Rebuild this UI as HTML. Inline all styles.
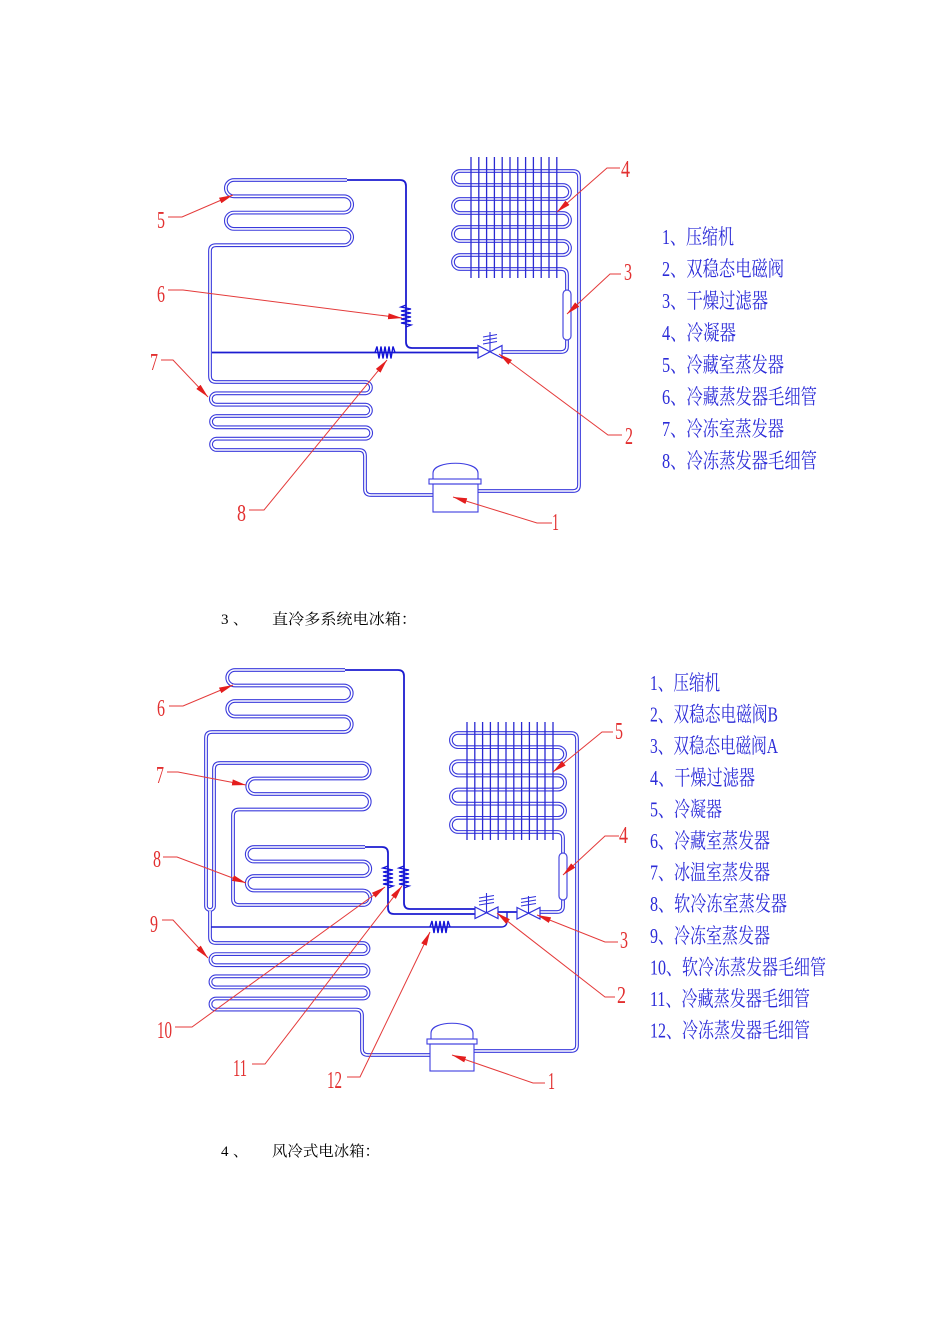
<!DOCTYPE html>
<html><head><meta charset="utf-8"><style>
html,body{margin:0;padding:0;background:#fff;}
svg{display:block;}
.to{fill:none;stroke:#3a3adc;stroke-width:3.8;stroke-linejoin:round;}
.ti{fill:none;stroke:#fff;stroke-width:1.6;stroke-linejoin:round;}
.dk{fill:none;stroke:#1c1cd0;stroke-width:1.8;}
.gr{stroke:#2a2ad2;stroke-width:1.3;}
.th{fill:none;stroke:#3c3ce0;stroke-width:1.1;}
.coil{fill:none;stroke:#1414d8;stroke-width:1.4;}
.ld{fill:none;stroke:#e43a3a;stroke-width:1;}
.lb{fill:#e23030;font-family:"Liberation Serif","Noto Serif CJK SC",serif;font-size:24px;}
.lg{fill:#2c2cd8;font-family:"Liberation Serif","Noto Serif CJK SC",serif;font-size:21px;}
.bt{fill:#000;font-family:"Liberation Serif","Noto Serif CJK SC",serif;font-size:15px;}
</style></head><body>
<svg width="950" height="1344" viewBox="0 0 950 1344" xmlns="http://www.w3.org/2000/svg">
<defs>
<marker id="ah" markerUnits="userSpaceOnUse" markerWidth="15" markerHeight="7" refX="14" refY="3" orient="auto">
<path d="M0,0 L14,3 L0,6 z" fill="#e41e1e"/>
</marker>
<path id="pA" d="M347,180 H234 A8.15,8.15 0 0 0 234,196.3 H344 A8.15,8.15 0 0 1 344,212.6 H234 A8.15,8.15 0 0 0 234,228.9 H344 A8.15,8.15 0 0 1 344,245.2 H216 Q210,245.2 210,251 V376 Q210,382 216,382 H365.5 A5.67,5.67 0 0 1 365.5,393.33 H216.5 A5.67,5.67 0 0 0 216.5,404.67 H365.5 A5.67,5.67 0 0 1 365.5,416 H216.5 A5.67,5.67 0 0 0 216.5,427.33 H365.5 A5.67,5.67 0 0 1 365.5,438.67 H216.5 A5.67,5.67 0 0 0 216.5,450 H359 Q365,450 365,456 V489 Q365,495 371,495 H433"/>
<path id="pB" d="M478,491 H573 Q579,491 579,485 V177 Q579,171 573,171 H460 A7,7 0 0 0 460,185 H563 A7,7 0 0 1 563,199 H460 A7,7 0 0 0 460,213 H563 A7,7 0 0 1 563,227 H460 A7,7 0 0 0 460,241 H563 A7,7 0 0 1 563,255 H460 A7,7 0 0 0 460,269 H561 Q567,269 567,275 V346 Q567,352 561,352 H502"/>
<path id="pC" d="M345,670 H235 A7.75,7.75 0 0 0 235,685.5 H344 A7.75,7.75 0 0 1 344,701 H235 A7.75,7.75 0 0 0 235,716.5 H344 A7.75,7.75 0 0 1 344,732 H212 Q206,732 206,738 V906 A4,4 0 0 0 214,906 V769 Q214,763 220,763 H362 A7.75,7.75 0 0 1 362,778.5 H255 A7.75,7.75 0 0 0 255,794 H362 A7.75,7.75 0 0 1 362,809.5 H239 Q233,809.5 233,815.5 V899 Q233,905 239,905 H363 A7.25,7.25 0 0 0 363,890.5 H254 A7.25,7.25 0 0 1 254,876 H363 A7.25,7.25 0 0 0 363,861.5 H254 A7.25,7.25 0 0 1 254,847 H365"/>
<path id="pD" d="M210,911 V937 Q210,943 216,943 H363 A5.55,5.55 0 0 1 363,954.1 H216 A5.55,5.55 0 0 0 216,965.2 H363 A5.55,5.55 0 0 1 363,976.3 H216 A5.55,5.55 0 0 0 216,987.4 H363 A5.55,5.55 0 0 1 363,998.5 H216 A5.55,5.55 0 0 0 216,1009.6 H356 Q362,1009.6 362,1015.6 V1049 Q362,1055 368,1055 H430"/>
<path id="pE" d="M474,1051 H571 Q577,1051 577,1045 V739 Q577,733 571,733 H458 A7.07,7.07 0 0 0 458,747.14 H558 A7.07,7.07 0 0 1 558,761.28 H458 A7.07,7.07 0 0 0 458,775.42 H558 A7.07,7.07 0 0 1 558,789.56 H458 A7.07,7.07 0 0 0 458,803.7 H558 A7.07,7.07 0 0 1 558,817.84 H458 A7.07,7.07 0 0 0 458,831.98 H557 Q563,832 563,838 V906 Q563,912 557,912 H540"/>
</defs>

<!-- ============ TOP DIAGRAM ============ -->
<use href="#pA" class="to"/><use href="#pA" class="ti"/>
<use href="#pB" class="to"/><use href="#pB" class="ti"/>

<!-- condenser grid top -->
<g class="gr">
<line x1="471" y1="157" x2="471" y2="278"/><line x1="478.8" y1="157" x2="478.8" y2="278"/>
<line x1="486.6" y1="157" x2="486.6" y2="278"/><line x1="494.4" y1="157" x2="494.4" y2="278"/>
<line x1="502.2" y1="157" x2="502.2" y2="278"/><line x1="510" y1="157" x2="510" y2="278"/>
<line x1="517.8" y1="157" x2="517.8" y2="278"/><line x1="525.6" y1="157" x2="525.6" y2="278"/>
<line x1="533.4" y1="157" x2="533.4" y2="278"/><line x1="541.2" y1="157" x2="541.2" y2="278"/>
<line x1="549" y1="157" x2="549" y2="278"/><line x1="556.8" y1="157" x2="556.8" y2="278"/>
</g>

<!-- filter top -->
<rect x="563" y="290" width="8" height="50" rx="4" fill="#fff" stroke="#4a4ae0" stroke-width="1.2"/>

<!-- capillaries top -->
<path class="dk" d="M347,180 H400 Q406,180 406,186 V342 Q406,348 412,348 H478"/>
<path class="dk" d="M212,352.5 H478"/>
<polyline class="coil" points="406,305 401,307 411,309 401,311 411,313 401,315 411,317 401,319 411,321 401,323 411,325 406,327"/>
<polyline class="coil" points="375,352.5 377,346.5 379,358.5 381,346.5 383,358.5 385,346.5 387,358.5 389,346.5 391,358.5 393,346.5 395,352.5"/>

<!-- valve top -->
<polygon points="478,345.5 502,358 502,345.5 478,358" fill="#fff" stroke="#3030dc" stroke-width="1.2"/>
<path d="M490,351.7 V332 M483,344 L497,341.5 M483,340.5 L497,338 M483,337 L497,334.5" stroke="#3030dc" stroke-width="1.1" fill="none"/>

<!-- compressor top -->
<path class="th" d="M433,479 V473 C433,460 478,460 478,473 V479"/>
<rect class="th" x="429" y="479" width="52" height="5" fill="#fff"/>
<rect class="th" x="433" y="484" width="45" height="28"/>

<!-- leaders top -->
<path class="ld" d="M168,217 H182 L233,195" marker-end="url(#ah)"/>
<path class="ld" d="M168,290 H183 L402,318" marker-end="url(#ah)"/>
<path class="ld" d="M161,360 H173 L208,397" marker-end="url(#ah)"/>
<path class="ld" d="M249,510 H264 L387,360" marker-end="url(#ah)"/>
<path class="ld" d="M552,523 H537 L453,497" marker-end="url(#ah)"/>
<path class="ld" d="M622,435 H608 L499,354" marker-end="url(#ah)"/>
<path class="ld" d="M621,274 H610 L567,314" marker-end="url(#ah)"/>
<path class="ld" d="M620,168 H607 L557,212" marker-end="url(#ah)"/>

<text class="lb" x="157" y="228" textLength="8" lengthAdjust="spacingAndGlyphs">5</text>
<text class="lb" x="157" y="302" textLength="8" lengthAdjust="spacingAndGlyphs">6</text>
<text class="lb" x="150" y="370" textLength="8" lengthAdjust="spacingAndGlyphs">7</text>
<text class="lb" x="237" y="521" textLength="9" lengthAdjust="spacingAndGlyphs">8</text>
<text class="lb" x="552" y="530" textLength="7" lengthAdjust="spacingAndGlyphs">1</text>
<text class="lb" x="625" y="444" textLength="8" lengthAdjust="spacingAndGlyphs">2</text>
<text class="lb" x="624" y="280" textLength="8" lengthAdjust="spacingAndGlyphs">3</text>
<text class="lb" x="621" y="177" textLength="9" lengthAdjust="spacingAndGlyphs">4</text>

<!-- legend top -->
<text class="lg" x="662" y="244" textLength="72" lengthAdjust="spacingAndGlyphs">1、压缩机</text>
<text class="lg" x="662" y="276" textLength="122" lengthAdjust="spacingAndGlyphs">2、双稳态电磁阀</text>
<text class="lg" x="662" y="308" textLength="106" lengthAdjust="spacingAndGlyphs">3、干燥过滤器</text>
<text class="lg" x="662" y="340" textLength="74" lengthAdjust="spacingAndGlyphs">4、冷凝器</text>
<text class="lg" x="662" y="372" textLength="122" lengthAdjust="spacingAndGlyphs">5、冷藏室蒸发器</text>
<text class="lg" x="662" y="404" textLength="155" lengthAdjust="spacingAndGlyphs">6、冷藏蒸发器毛细管</text>
<text class="lg" x="662" y="436" textLength="122" lengthAdjust="spacingAndGlyphs">7、冷冻室蒸发器</text>
<text class="lg" x="662" y="468" textLength="155" lengthAdjust="spacingAndGlyphs">8、冷冻蒸发器毛细管</text>

<!-- heading 3 -->
<text class="bt" x="221" y="624">3</text>
<text class="bt" x="233" y="624">、</text>
<text class="bt" x="272" y="624" textLength="145" lengthAdjust="spacingAndGlyphs">直冷多系统电冰箱：</text>

<!-- ============ BOTTOM DIAGRAM ============ -->
<use href="#pC" class="to"/><use href="#pC" class="ti"/>
<use href="#pD" class="to"/><use href="#pD" class="ti"/>
<use href="#pE" class="to"/><use href="#pE" class="ti"/>

<g class="gr">
<line x1="467" y1="722" x2="467" y2="840"/><line x1="474.8" y1="722" x2="474.8" y2="840"/>
<line x1="482.6" y1="722" x2="482.6" y2="840"/><line x1="490.4" y1="722" x2="490.4" y2="840"/>
<line x1="498.2" y1="722" x2="498.2" y2="840"/><line x1="506" y1="722" x2="506" y2="840"/>
<line x1="513.8" y1="722" x2="513.8" y2="840"/><line x1="521.6" y1="722" x2="521.6" y2="840"/>
<line x1="529.4" y1="722" x2="529.4" y2="840"/><line x1="537.2" y1="722" x2="537.2" y2="840"/>
<line x1="545" y1="722" x2="545" y2="840"/><line x1="553" y1="722" x2="553" y2="840"/>
</g>

<rect x="559" y="853" width="8" height="47" rx="4" fill="#fff" stroke="#4a4ae0" stroke-width="1.2"/>

<path class="dk" d="M345,670 H398 Q404,670 404,676 V903 Q404,909 410,909 H475"/>
<path class="dk" d="M365,847 H382 Q388,847 388,853 V908 Q388,914 394,914 H475"/>
<path class="dk" d="M498,912 H517"/>
<path class="dk" style="stroke-width:1.4" d="M507,912 V921 Q507,927 501,927 H211"/>
<polyline class="coil" points="388,866 383,868 393,870 383,872 393,874 383,876 393,878 383,880 393,882 383,884 393,886 388,888"/>
<polyline class="coil" points="404,866 399,868 409,870 399,872 409,874 399,876 409,878 399,880 409,882 399,884 409,886 404,888"/>
<polyline class="coil" points="430,927 432,921 434,933 436,921 438,933 440,921 442,933 444,921 446,933 448,921 450,927"/>

<polygon points="475,907 498,918.5 498,907 475,918.5" fill="#fff" stroke="#3030dc" stroke-width="1.2"/>
<path d="M486.5,912.7 V893 M479,905 L494,902.5 M479,901.5 L494,899 M479,898 L494,895.5" stroke="#3030dc" stroke-width="1.1" fill="none"/>
<polygon points="517,907.5 540,919 540,907.5 517,919" fill="#fff" stroke="#3030dc" stroke-width="1.2"/>
<path d="M528.5,913.2 V896 M521,906 L536,903.5 M521,902.5 L536,900 M521,899 L536,896.5" stroke="#3030dc" stroke-width="1.1" fill="none"/>

<path class="th" d="M431,1039 V1033 C431,1020 473,1020 473,1033 V1039"/>
<rect class="th" x="427" y="1039" width="50" height="5" fill="#fff"/>
<rect class="th" x="430" y="1044" width="44" height="27"/>

<!-- leaders bottom -->
<path class="ld" d="M169,706 H183 L233,685" marker-end="url(#ah)"/>
<path class="ld" d="M167,772 H178 L246,785" marker-end="url(#ah)"/>
<path class="ld" d="M163,857 H177 L246,883" marker-end="url(#ah)"/>
<path class="ld" d="M162,920 H173 L208,958" marker-end="url(#ah)"/>
<path class="ld" d="M175,1027 H192 L385,887" marker-end="url(#ah)"/>
<path class="ld" d="M252,1064 H265 L402,886" marker-end="url(#ah)"/>
<path class="ld" d="M347,1077 H360 L430,932" marker-end="url(#ah)"/>
<path class="ld" d="M545,1083 H533 L452,1055" marker-end="url(#ah)"/>
<path class="ld" d="M615,997 H605 L497,913" marker-end="url(#ah)"/>
<path class="ld" d="M618,942 H605 L537,915" marker-end="url(#ah)"/>
<path class="ld" d="M619,836 H605 L563,875" marker-end="url(#ah)"/>
<path class="ld" d="M613,732 H602 L553,772" marker-end="url(#ah)"/>

<text class="lb" x="157" y="716" textLength="8" lengthAdjust="spacingAndGlyphs">6</text>
<text class="lb" x="156" y="783" textLength="8" lengthAdjust="spacingAndGlyphs">7</text>
<text class="lb" x="153" y="867" textLength="8" lengthAdjust="spacingAndGlyphs">8</text>
<text class="lb" x="150" y="932" textLength="8" lengthAdjust="spacingAndGlyphs">9</text>
<text class="lb" x="157" y="1038" textLength="15" lengthAdjust="spacingAndGlyphs">10</text>
<text class="lb" x="233" y="1076" textLength="14" lengthAdjust="spacingAndGlyphs">11</text>
<text class="lb" x="327" y="1088" textLength="15" lengthAdjust="spacingAndGlyphs">12</text>
<text class="lb" x="548" y="1089" textLength="7" lengthAdjust="spacingAndGlyphs">1</text>
<text class="lb" x="617" y="1003" textLength="9" lengthAdjust="spacingAndGlyphs">2</text>
<text class="lb" x="620" y="948" textLength="8" lengthAdjust="spacingAndGlyphs">3</text>
<text class="lb" x="619" y="843" textLength="9" lengthAdjust="spacingAndGlyphs">4</text>
<text class="lb" x="615" y="739" textLength="8" lengthAdjust="spacingAndGlyphs">5</text>

<!-- legend bottom -->
<text class="lg" x="650" y="690" textLength="70" lengthAdjust="spacingAndGlyphs">1、压缩机</text>
<text class="lg" x="650" y="721.6" textLength="128" lengthAdjust="spacingAndGlyphs">2、双稳态电磁阀B</text>
<text class="lg" x="650" y="753.2" textLength="128" lengthAdjust="spacingAndGlyphs">3、双稳态电磁阀A</text>
<text class="lg" x="650" y="784.8" textLength="105" lengthAdjust="spacingAndGlyphs">4、干燥过滤器</text>
<text class="lg" x="650" y="816.4" textLength="72" lengthAdjust="spacingAndGlyphs">5、冷凝器</text>
<text class="lg" x="650" y="848" textLength="120" lengthAdjust="spacingAndGlyphs">6、冷藏室蒸发器</text>
<text class="lg" x="650" y="879.6" textLength="120" lengthAdjust="spacingAndGlyphs">7、冰温室蒸发器</text>
<text class="lg" x="650" y="911.2" textLength="137" lengthAdjust="spacingAndGlyphs">8、软冷冻室蒸发器</text>
<text class="lg" x="650" y="942.8" textLength="120" lengthAdjust="spacingAndGlyphs">9、冷冻室蒸发器</text>
<text class="lg" x="650" y="974.4" textLength="176" lengthAdjust="spacingAndGlyphs">10、软冷冻蒸发器毛细管</text>
<text class="lg" x="650" y="1006" textLength="160" lengthAdjust="spacingAndGlyphs">11、冷藏蒸发器毛细管</text>
<text class="lg" x="650" y="1037.6" textLength="160" lengthAdjust="spacingAndGlyphs">12、冷冻蒸发器毛细管</text>

<!-- heading 4 -->
<text class="bt" x="221" y="1156">4</text>
<text class="bt" x="233" y="1156">、</text>
<text class="bt" x="272" y="1156" textLength="108" lengthAdjust="spacingAndGlyphs">风冷式电冰箱：</text>
</svg>
</body></html>
